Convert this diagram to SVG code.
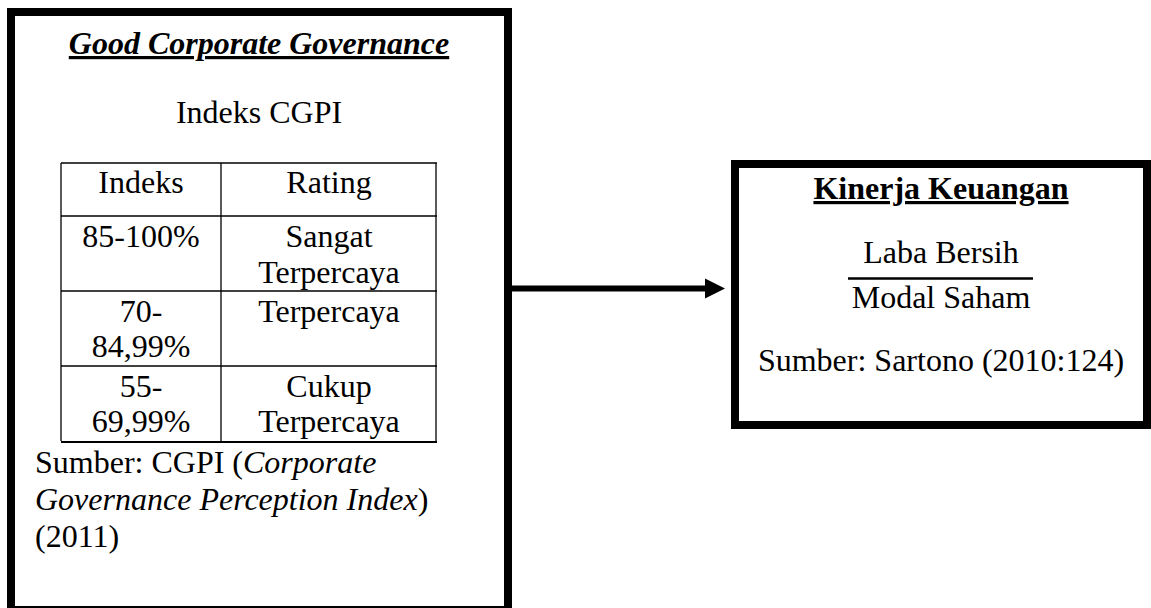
<svg xmlns="http://www.w3.org/2000/svg" width="1151" height="608" viewBox="0 0 1151 608">
  <style>
    .box { fill: #ffffff; stroke: #000000; stroke-width: 8; }
    .grid { stroke: #000000; stroke-width: 1.3; fill: none; }
    .t { font-family: "Liberation Serif", "Times New Roman", serif; font-size: 32px; fill: #000000; }
    .c { text-anchor: middle; }
    .title { font-weight: bold; text-decoration: underline; }
    .it { font-style: italic; }
    .conn { stroke: #000000; stroke-width: 6; fill: none; }
  </style>
  <defs>
    <marker id="arrow" markerUnits="userSpaceOnUse" markerWidth="20" markerHeight="20" refX="20" refY="10" orient="auto">
      <path d="M0,0 L20,10 L0,20 Z" fill="#000000"/>
    </marker>
  </defs>
  <rect x="0" y="0" width="1151" height="608" fill="#ffffff"/>

  <g id="gcg">
    <rect class="box" x="11" y="12" width="497" height="598"/>
    <text class="t c title it" x="259" y="54">Good Corporate Governance</text>
    <text class="t c" x="259" y="123">Indeks CGPI</text>
    <g id="gcg-table">
      <line class="grid" x1="61" y1="163" x2="437" y2="163"/>
      <line class="grid" x1="61" y1="216" x2="437" y2="216"/>
      <line class="grid" x1="61" y1="291" x2="437" y2="291"/>
      <line class="grid" x1="61" y1="366" x2="437" y2="366"/>
      <line x1="61" y1="442" x2="437" y2="442" stroke="#000000" stroke-width="2"/>
      <line class="grid" x1="61" y1="163" x2="61" y2="441"/>
      <line class="grid" x1="221" y1="163" x2="221" y2="441"/>
      <line class="grid" x1="436" y1="163" x2="436" y2="441"/>
      <text class="t c" x="141" y="193">Indeks</text>
      <text class="t c" x="329" y="193">Rating</text>
      <text class="t c" x="141" y="247">85-100%</text>
      <text class="t c" x="329" y="247">Sangat</text>
      <text class="t c" x="329" y="283">Terpercaya</text>
      <text class="t c" x="141" y="322">70-</text>
      <text class="t c" x="141" y="357">84,99%</text>
      <text class="t c" x="329" y="322">Terpercaya</text>
      <text class="t c" x="141" y="397">55-</text>
      <text class="t c" x="141" y="432">69,99%</text>
      <text class="t c" x="329" y="397">Cukup</text>
      <text class="t c" x="329" y="432">Terpercaya</text>
    </g>
    <text class="t" x="35" y="473">Sumber: CGPI (<tspan class="it">Corporate</tspan></text>
    <text class="t" x="35" y="510"><tspan class="it">Governance Perception Index</tspan>)</text>
    <text class="t" x="35" y="547">(2011)</text>
  </g>

  <g id="kinerja">
    <rect class="box" x="735" y="164" width="412" height="261"/>
    <text class="t c title" x="941" y="199">Kinerja Keuangan</text>
    <text class="t c" x="941" y="263">Laba Bersih</text>
    <line x1="848" y1="278.5" x2="1033" y2="278.5" stroke="#000000" stroke-width="2.5"/>
    <text class="t c" x="941" y="308">Modal Saham</text>
    <text class="t c" x="941" y="371">Sumber: Sartono (2010:124)</text>
  </g>

  <g id="connectors">
    <path class="conn" d="M512,288.5 L712,288.5"/>
    <path d="M705,278.5 L725,288.5 L705,298.5 Z" fill="#000000"/>
  </g>
</svg>
